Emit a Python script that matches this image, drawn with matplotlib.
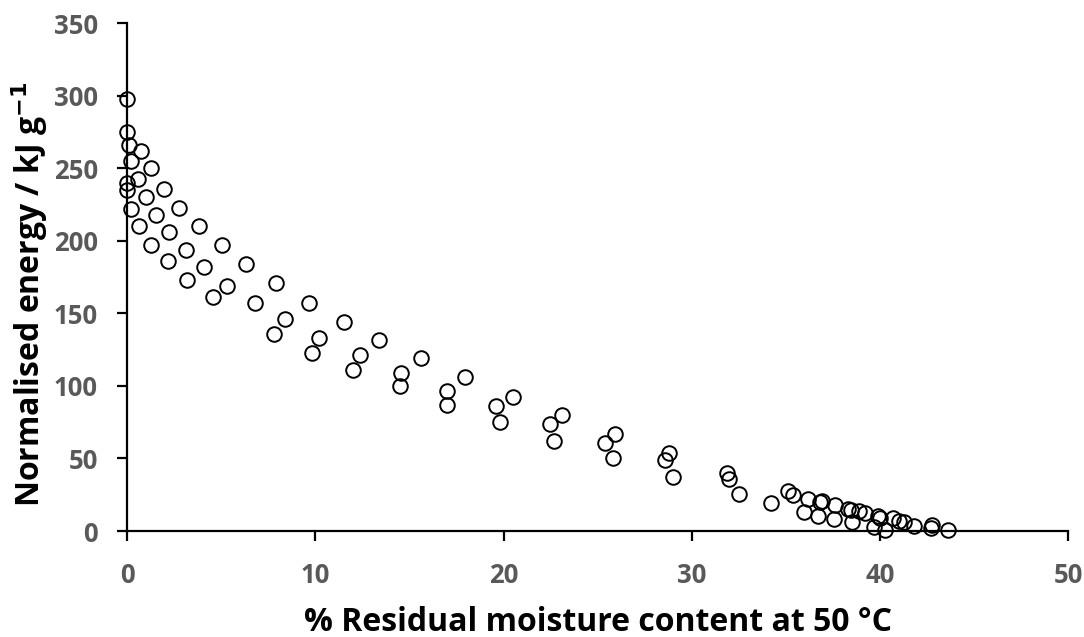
import numpy as np
import matplotlib
matplotlib.use("Agg")
import matplotlib.pyplot as plt

# moisture content (%) and normalised energy (kJ/g)
moisture = [0.0, 0.0, 0.1, 0.7, 0.2, 1.25, 0.55, 0.0, 0.0, 1.95, 1.0, 2.75, 0.2, 1.5,
            3.8, 0.6, 2.2, 5.05, 1.25, 3.1, 2.15, 6.3, 4.1, 3.15, 7.9, 5.3, 4.55,
            6.8, 9.65, 8.4, 7.8, 11.5, 10.2, 9.8, 13.4, 12.35, 12.0, 15.6, 14.55, 14.5,
            17.95, 17.0, 17.0, 20.5, 19.6, 19.8, 22.45, 23.1, 22.7,
            25.9, 25.4, 25.8, 28.8, 28.6, 29.0, 31.9, 32.0, 32.5, 34.2,
            35.1, 35.4, 36.2, 35.95, 36.8, 36.9, 36.7, 37.6, 37.55, 38.3, 38.45, 38.9,
            39.2, 38.5, 39.9, 40.0, 39.7, 40.3, 40.7, 41.0, 41.3, 41.8, 42.75, 42.7, 43.6]
energy = [298, 275, 266, 262, 255, 250, 243, 240, 235, 236, 230, 223, 222, 218,
          210, 210, 206, 197, 197, 194, 186, 184, 182, 173, 171, 169, 161,
          157, 157, 146, 136, 144, 133, 123, 132, 121, 111, 119, 109, 100,
          106, 96.5, 87, 92.5, 86, 75, 74, 80, 62,
          67, 61, 50, 54, 49, 37, 40, 36, 25.5, 19,
          27.5, 25, 22, 13, 20, 21, 10, 18, 8, 15.5, 14.5, 14,
          12.5, 6, 10, 8.8, 3, 1, 9, 7, 6.5, 3.5, 4, 2, 1]

xticks = [0, 10, 20, 30, 40, 50]
yticks = [0, 50, 100, 150, 200, 250, 300, 350]

plt.rcParams['font.family'] = ['Open Sans', 'DejaVu Sans']

fig = plt.figure(figsize=(10.84, 6.37), dpi=100)
ax = fig.add_axes([0.1175, 0.1664, 0.8677, 0.797])

ax.plot(moisture, energy, 'o', ms=10.5, mfc='none', mec='black', mew=1.4, clip_on=False)

ax.set_xlim(0, 50)
ax.set_ylim(0, 350)
ax.set_xticks(xticks)
ax.set_yticks(yticks)
for s in ['top', 'right']:
    ax.spines[s].set_visible(False)
for s in ['left', 'bottom']:
    ax.spines[s].set_linewidth(1.6)
ax.tick_params(direction='out', length=7.2, width=1.6, labelsize=18.5, labelcolor='#595959')
ax.tick_params(axis='y', pad=14)
ax.tick_params(axis='x', pad=15)
for lab in ax.get_xticklabels() + ax.get_yticklabels():
    lab.set_fontweight('bold')

fig.text(0.5512, 0.0094, '% Residual moisture content at 50 °C', ha='center', va='baseline',
         fontsize=23, fontweight='bold')
fig.text(0.0277, 0.5385, 'Normalised energy / kJ g$^{\\mathbf{-1}}$', ha='center', va='center',
         rotation=90, fontsize=23, fontweight='bold')

fig.savefig('out.png', dpi=100)
